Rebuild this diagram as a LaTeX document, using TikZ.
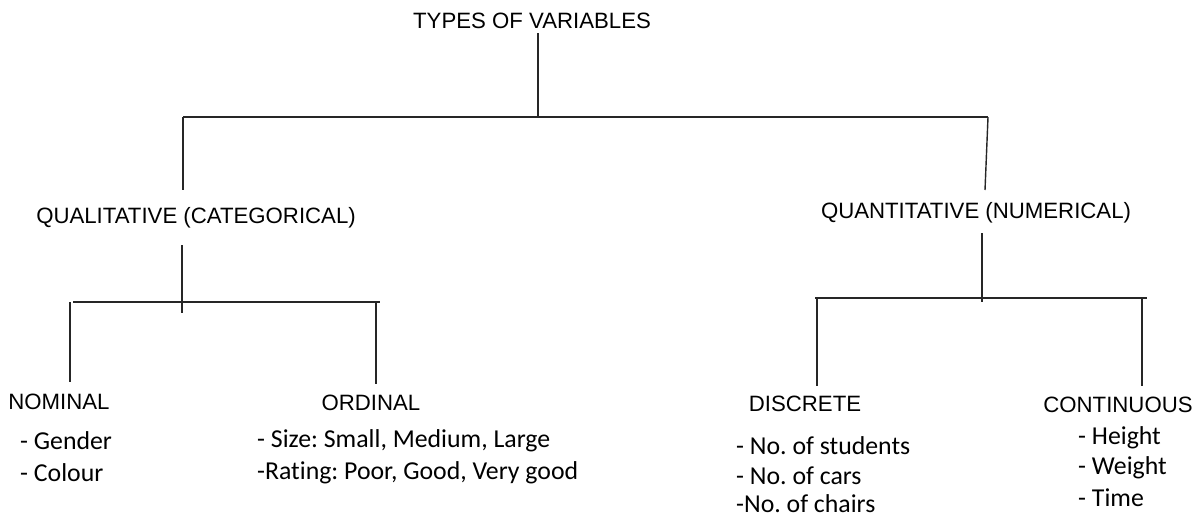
\documentclass[tikz,border=0pt]{standalone}
\usepackage{fontspec}
\newfontfamily\headfont{Liberation Sans}
\newfontfamily\itemfont[Ligatures=NoCommon]{Carlito}
\frenchspacing
\tikzset{
  head/.style={font=\headfont\fontsize{22.2}{24}\selectfont, inner sep=0pt, text=black},
  itemtxt/.style={font=\itemfont\fontsize{25.8}{28}\selectfont\frenchspacing, inner sep=0pt, anchor=west, text=black},
  conn/.style={draw=black!85, line width=1.4pt}
}
\begin{document}
\begin{tikzpicture}[x=1pt,y=-1pt]
\useasboundingbox (0,0) rectangle (1198,517);
% headings
\node[head] (root) at (532,21) {TYPES OF VARIABLES};
\node[head] (qual) at (196,218) {QUALITATIVE (CATEGORICAL)};
\node[head] (quan) at (976,213) {QUANTITATIVE (NUMERICAL)};
\node[head] (nom) at (59,402) {NOMINAL};
\node[head] (ord) at (371,403) {ORDINAL};
\node[head] (dis) at (805,404) {DISCRETE};
\node[head] (con) at (1118,405) {CONTINUOUS};
% items
\node[itemtxt] (n1) at (20,441) {- Gender};
\node[itemtxt] (n2) at (20,473) {- Colour};
\node[itemtxt] (o1) at (257,441) {- Size: Small, Medium, Large};
\node[itemtxt] (o2) at (257,473) {-Rating: Poor, Good, Very good};
\node[itemtxt] (d1) at (736,446) {- No. of students};
\node[itemtxt] (d2) at (736,476) {- No. of cars};
\node[itemtxt] (d3) at (736,504) {-No. of chairs};
\node[itemtxt] (c1) at (1078,438) {- Height};
\node[itemtxt] (c2) at (1078,468) {- Weight};
\node[itemtxt] (c3) at (1078,498) {- Time};
% junction coordinates
\coordinate (rtop) at (538,33);
\coordinate (rj) at (538,117);
\coordinate (rl) at (183,117);
\coordinate (rr) at (988,117);
\coordinate (rlb) at (183,190);
\coordinate (rrb) at (985,190);
\coordinate (qlt) at (182,245);
\coordinate (qlj) at (182,313);
\coordinate (qll) at (73,302);
\coordinate (qlr) at (380,302);
\coordinate (nomt) at (70,302);
\coordinate (nomb) at (70,382);
\coordinate (ordt) at (376,302);
\coordinate (ordb) at (376,384);
\coordinate (qnt) at (982,233);
\coordinate (qnj) at (982,302);
\coordinate (qnl) at (815,298);
\coordinate (qnr) at (1147,298);
\coordinate (dist) at (817,298);
\coordinate (disb) at (817,386);
\coordinate (cont) at (1142,298);
\coordinate (conb) at (1142,386);
% connectors
\draw[conn] (rtop) -- (rj);
\draw[conn] (rl) -- (rr);
\draw[conn] (rl) -- (rlb);
\draw[conn] (rr |- rl) -- (rrb);
\draw[conn] (qlt) -- (qlj);
\draw[conn] (qll) -- (qlr);
\draw[conn] (nomt) -- (nomb);
\draw[conn] (ordt) -- (ordb);
\draw[conn] (qnt) -- (qnj);
\draw[conn] (qnl) -- (qnr);
\draw[conn] (dist) -- (disb);
\draw[conn] (cont) -- (conb);
\end{tikzpicture}
\end{document}
